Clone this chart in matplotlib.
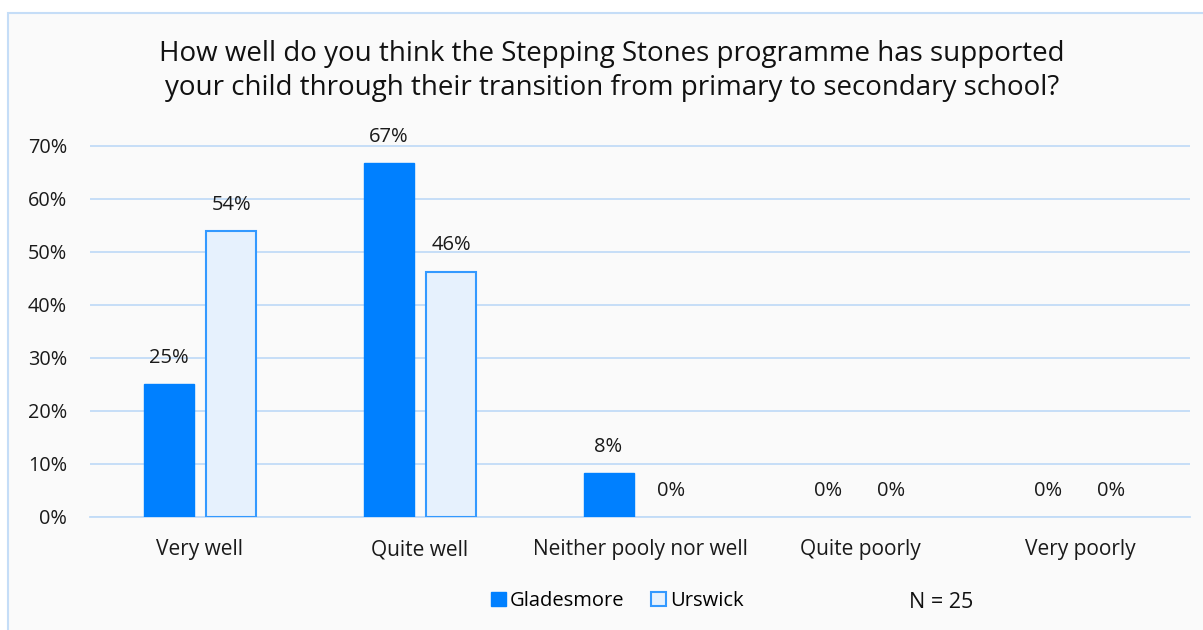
import matplotlib.pyplot as plt
from matplotlib.patches import Rectangle, Patch
import numpy as np

plt.rcParams['font.family'] = ['Open Sans', 'DejaVu Sans']

categories = ['Very well', 'Quite well', 'Neither pooly nor well', 'Quite poorly', 'Very poorly']
gladesmore = [25.0, 66.7, 8.3, 0, 0]
urswick = [53.8, 46.2, 0, 0, 0]
yticks = [0, 10, 20, 30, 40, 50, 60, 70]

W, H = 1203, 630
fig = plt.figure(figsize=(W / 100, H / 100), dpi=100)
fig.patch.set_facecolor('white')

# chart frame
frame = Rectangle((8 / W, -0.01), 1.0, 1 - 13 / H + 0.01, transform=fig.transFigure,
                  facecolor='#FAFAFA', edgecolor='#C5DDF7', linewidth=1.5, zorder=0)
fig.add_artist(frame)

ax = fig.add_axes([90 / W, 1 - 517 / H, 1100 / W, (517 - 145) / H])
ax.set_facecolor('none')

x = np.arange(len(categories))
w = 0.227
off = 0.143
b1 = ax.bar(x - off, gladesmore, w, color='#0080FF', edgecolor='#0080FF', zorder=3, label='Gladesmore')
b2 = ax.bar(x + off, urswick, w, color='#E6F1FD', edgecolor='#3399FF', linewidth=1.5, zorder=3, label='Urswick')

for bars, vals in [(b1, gladesmore), (b2, urswick)]:
    for b, v in zip(bars, vals):
        if v == 0:
            b.set_linewidth(0)
        ax.annotate(f'{round(v):.0f}%', (b.get_x() + b.get_width() / 2, v),
                    xytext=(0, 19), textcoords='offset points',
                    ha='center', va='center', fontsize=14.5, color='#1a1a1a')

ax.set_xlim(-0.5, len(categories) - 0.5)
ax.set_ylim(0, 70.1)
ax.set_yticks(yticks)
ax.set_yticklabels([f'{t}%' for t in yticks], fontsize=14.3, color='#1a1a1a')
ax.set_xticks(x)
ax.set_xticklabels(categories, fontsize=15, color='#1a1a1a')
ax.tick_params(axis='both', length=0)
ax.tick_params(axis='x', pad=16)
ax.tick_params(axis='y', pad=16.5)
ax.grid(axis='y', color='#C2DCF7', linewidth=1.3, zorder=0)
for s in ['top', 'right', 'left']:
    ax.spines[s].set_visible(False)
ax.spines['bottom'].set_color('#C2DCF7')
ax.spines['bottom'].set_linewidth(1.3)

fig.text(612 / W, 1 - 71 / H,
         'How well do you think the Stepping Stones programme has supported\n'
         'your child through their transition from primary to secondary school?',
         ha='center', va='center', fontsize=20, color='#111111', linespacing=1.33)

handles = [Patch(facecolor='#0080FF', edgecolor='#0080FF', label='Gladesmore'),
           Patch(facecolor='#E6F1FD', edgecolor='#3399FF', linewidth=1.5, label='Urswick')]
fig.legend(handles=handles, loc='center', bbox_to_anchor=(617 / W, 1 - 601 / H), ncol=2,
           frameon=False, fontsize=14.5, handlelength=0.75, handleheight=0.75,
           handletextpad=0.2, columnspacing=1.3)

fig.text(941 / W, 1 - 602 / H, 'N = 25', ha='center', va='center', fontsize=15.5, color='#111111')

fig.savefig('out.png', dpi=100)
